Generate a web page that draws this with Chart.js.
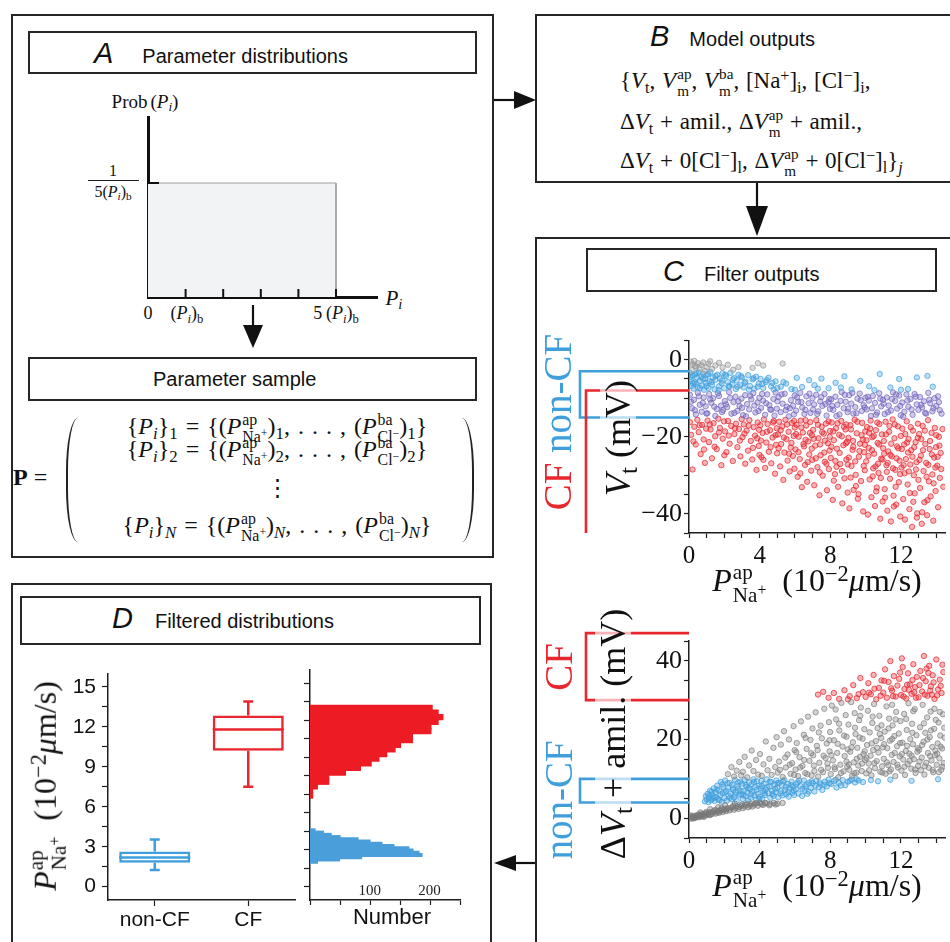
<!DOCTYPE html>
<html>
<head>
<meta charset="utf-8">
<script src="https://cdn.jsdelivr.net/npm/chart.js@4.4.1/dist/chart.umd.min.js"></script>
<style>
html,body{margin:0;padding:0;background:#fff}
body{width:950px;height:942px;position:relative;overflow:hidden;font-family:"Liberation Sans",Arial,sans-serif;color:#111}
.box{position:absolute;border:2px solid #262626;box-sizing:border-box}
.ttl{position:absolute;white-space:nowrap;font-size:20px;line-height:1;transform:translateY(-50%)}
.ttl i{font-size:29px}
.m{position:absolute;white-space:nowrap;font-family:"Liberation Serif","DejaVu Serif",serif;line-height:1;color:#111}
.c{transform:translate(-50%,-50%)}
.r{transform:translate(-50%,-50%) rotate(-90deg)}
.m sub{font-size:.7em;vertical-align:-.28em;line-height:0}
.m sup{font-size:.7em;vertical-align:.45em;line-height:0}
.ss{display:inline-block;font-size:.66em;line-height:1.1;vertical-align:-.5em;text-align:left;margin-left:1px}
.ss>span{display:block}
.ss sup{font-size:.75em;vertical-align:.4em}
canvas{position:absolute}
svg{position:absolute;left:0;top:0}
.paren{position:absolute;width:12px;height:124px;box-sizing:border-box}
</style>
</head>
<body>

<!-- panel frames -->
<div class="box" style="left:11px;top:14px;width:483px;height:544px"></div>
<div class="box" style="left:28px;top:31px;width:449px;height:43px"></div>
<div class="box" style="left:28px;top:357px;width:449px;height:44px"></div>
<div class="box" style="left:535px;top:14px;width:430px;height:169px"></div>
<div class="box" style="left:535px;top:237px;width:430px;height:730px"></div>
<div class="box" style="left:586px;top:248px;width:351px;height:44px"></div>
<div class="box" style="left:11px;top:583px;width:481px;height:400px"></div>
<div class="box" style="left:20px;top:596px;width:461px;height:49px"></div>

<!-- titles -->
<div class="ttl" style="left:94px;top:53px"><i>A</i><span style="margin-left:29px">Parameter distributions</span></div>
<div class="ttl" style="left:153px;top:379px">Parameter sample</div>
<div class="ttl" style="left:650px;top:36px"><i>B</i><span style="margin-left:20px">Model outputs</span></div>
<div class="ttl" style="left:663px;top:271px"><i>C</i><span style="margin-left:20px">Filter outputs</span></div>
<div class="ttl" style="left:112px;top:618px"><i>D</i><span style="margin-left:22px">Filtered distributions</span></div>

<!-- panel A labels -->
<div class="m c" style="left:145px;top:101px;font-size:19px">Prob<span style="margin-left:3px">(</span><i>P<sub>i</sub></i>)</div>
<div class="m c" style="left:113px;top:171px;font-size:16px">1</div>
<div style="position:absolute;left:88px;top:180px;width:51px;border-top:1px solid #222"></div>
<div class="m c" style="left:113px;top:192px;font-size:16px">5(<i>P<sub>i</sub></i>)<sub>b</sub></div>
<div class="m c" style="left:148px;top:313px;font-size:18px">0</div>
<div class="m c" style="left:187px;top:313px;font-size:18px">(<i>P<sub>i</sub></i>)<sub>b</sub></div>
<div class="m c" style="left:336px;top:313px;font-size:18px">5&#8201;(<i>P<sub>i</sub></i>)<sub>b</sub></div>
<div class="m c" style="left:394px;top:298px;font-size:21px"><i>P<sub>i</sub></i></div>

<!-- parameter matrix -->
<div class="m" style="left:13px;top:465px;font-size:24px"><b>P</b> =</div>
<div class="paren" style="left:66px;top:418px;border-left:2px solid #222;border-radius:14px 0 0 14px / 62px 0 0 62px"></div>
<div class="paren" style="left:462px;top:418px;border-right:2px solid #222;border-radius:0 14px 14px 0 / 0 62px 62px 0"></div>
<div class="m c" style="left:277px;top:428px;font-size:24px;word-spacing:2px">{<i>P</i><sub><i>i</i></sub>}<sub>1</sub> = {(<i>P</i><span class="ss"><span>ap</span><span>Na<sup>+</sup></span></span>)<sub>1</sub>, . . . , (<i>P</i><span class="ss"><span>ba</span><span>Cl<sup>&minus;</sup></span></span>)<sub>1</sub>}</div>
<div class="m c" style="left:277px;top:451px;font-size:24px;word-spacing:2px">{<i>P</i><sub><i>i</i></sub>}<sub>2</sub> = {(<i>P</i><span class="ss"><span>ap</span><span>Na<sup>+</sup></span></span>)<sub>2</sub>, . . . , (<i>P</i><span class="ss"><span>ba</span><span>Cl<sup>&minus;</sup></span></span>)<sub>2</sub>}</div>
<div class="m c" style="left:277px;top:487px;font-size:23px">&#8942;</div>
<div class="m c" style="left:277px;top:527px;font-size:24px;word-spacing:2px">{<i>P</i><sub><i>i</i></sub>}<sub><i>N</i></sub> = {(<i>P</i><span class="ss"><span>ap</span><span>Na<sup>+</sup></span></span>)<sub><i>N</i></sub>, . . . , (<i>P</i><span class="ss"><span>ba</span><span>Cl<sup>&minus;</sup></span></span>)<sub><i>N</i></sub>}</div>

<!-- panel B formulas -->
<div class="m" style="left:620px;top:66px;font-size:23px;word-spacing:1px">{<i>V</i><sub>t</sub>, <i>V</i><span class="ss"><span>ap</span><span>m</span></span>, <i>V</i><span class="ss"><span>ba</span><span>m</span></span>, [Na<sup>+</sup>]<sub>i</sub>, [Cl<sup>&minus;</sup>]<sub>i</sub>,</div>
<div class="m" style="left:620px;top:107px;font-size:23px;word-spacing:1px">&Delta;<i>V</i><sub>t</sub> + amil., &Delta;<i>V</i><span class="ss"><span>ap</span><span>m</span></span> + amil.,</div>
<div class="m" style="left:620px;top:146px;font-size:23px;word-spacing:1px">&Delta;<i>V</i><sub>t</sub> + 0[Cl<sup>&minus;</sup>]<sub>l</sub>, &Delta;<i>V</i><span class="ss"><span>ap</span><span>m</span></span> + 0[Cl<sup>&minus;</sup>]<sub>l</sub>}<sub><i>j</i></sub></div>

<canvas id="cDist" width="330" height="200" style="left:80px;top:110px"></canvas>
<canvas id="cTop" width="410" height="250" style="left:540px;top:320px"></canvas>
<canvas id="cBot" width="410" height="255" style="left:540px;top:620px"></canvas>
<canvas id="cBox" width="285" height="285" style="left:20px;top:655px"></canvas>
<canvas id="cHist" width="180" height="285" style="left:300px;top:655px"></canvas>

<!-- panel C labels -->
<div class="m r" style="left:557px;top:422px;font-size:39px"><span style="color:#e8262d">CF</span> <span style="color:#3f9fdc">non-CF</span></div>
<div class="m r" style="left:618px;top:438px;font-size:36px;background:rgba(255,255,255,0.65);padding:0 3px"><i>V</i><sub>t</sub> (mV)</div>
<div class="m c" style="left:817px;top:584px;font-size:32px"><i>P</i><span class="ss"><span>ap</span><span>Na<sup>+</sup></span></span>&nbsp; (10<sup>&minus;2</sup><i>&mu;</i>m/s)</div>
<div class="m r" style="left:558px;top:667px;font-size:39px;color:#e8262d">CF</div>
<div class="m r" style="left:558px;top:800px;font-size:39px;color:#3f9fdc">non-CF</div>
<div class="m r" style="left:613px;top:734px;font-size:36px;background:rgba(255,255,255,0.65);padding:0 3px">&Delta;<i>V</i><sub>t</sub> + amil. (mV)</div>
<div class="m c" style="left:817px;top:889px;font-size:32px"><i>P</i><span class="ss"><span>ap</span><span>Na<sup>+</sup></span></span>&nbsp; (10<sup>&minus;2</sup><i>&mu;</i>m/s)</div>

<!-- panel D labels -->
<div class="m r" style="left:48px;top:786px;font-size:32px"><i>P</i><span class="ss"><span>ap</span><span>Na<sup>+</sup></span></span>&nbsp; (10<sup>&minus;2</sup><i>&mu;</i>m/s)</div>
<div class="ttl" style="left:392px;top:917px;font-size:22px;transform:translate(-50%,-50%)">Number</div>

<svg width="950" height="942">
  <g stroke="#111" stroke-width="2.2" fill="#111">
    <line x1="253" y1="305" x2="253" y2="328"/>
    <polygon points="243,325 263,325 253,348" stroke="none"/>
    <line x1="494" y1="100" x2="518" y2="100"/>
    <polygon points="514,91 514,109 536,100" stroke="none"/>
    <line x1="757" y1="183" x2="757" y2="210"/>
    <polygon points="746,206 768,206 757,236" stroke="none"/>
    <line x1="535" y1="863" x2="512" y2="863"/>
    <polygon points="516,855 516,871 494,863" stroke="none"/>
  </g>
</svg>

<script>
// ---------- panel A: uniform prior ----------
const distSpan = [0, 5];          // in units of (P_i)_b
const distHeight = 0.2;           // 1 / (5 (P_i)_b)
const distTicks = [1, 2, 3, 4, 5];

// ---------- panel C: V_t filter (top) ----------
const topThresholdNonCF = [-15, -3];
const topThresholdCF = -8;

const topGrey = [[0.1,-0.5],[0.2,-1.2],[0.3,-0.3],[0.4,-1.8],[0.5,-0.9],[0.6,-2.2],[0.7,-1.4],[0.8,-0.7],[1.0,-1.9],[1.1,-1.0],[1.3,-2.4],[1.5,-1.5],[1.7,-0.8],[1.9,-2.0],[2.2,-1.3],[2.5,-2.6],[2.8,-1.9],[3.6,-2.1],[3.9,-0.9],[4.2,-1.5],[5.3,-1.0],[0.15,-2.7],[0.9,-2.9],[0.35,-1.6],[1.2,-0.4]];

const topBlue = [[0.05,-3.4],[0.1,-5.2],[0.15,-6.8],[0.2,-4.1],[0.25,-7.5],[0.3,-5.9],[0.35,-3.8],[0.4,-6.3],[0.45,-4.7],[0.5,-7.1],[0.55,-3.3],[0.6,-5.5],[0.7,-4.4],[0.75,-6.7],[0.8,-3.6],[0.85,-7.8],[0.9,-5.0],[0.95,-6.0],
  [1.0,-4.0],[1.1,-7.3],[1.15,-5.6],[1.2,-3.2],[1.3,-6.5],[1.35,-4.6],[1.45,-7.7],[1.5,-5.2],[1.6,-3.9],[1.7,-6.9],[1.75,-4.9],[1.85,-6.1],[1.9,-3.5],[2.0,-7.4],
  [2.1,-4.3],[2.2,-5.8],[2.3,-7.0],[2.35,-3.4],[2.45,-6.4],[2.55,-4.8],[2.65,-7.6],[2.7,-5.4],[2.8,-3.9],[2.9,-6.6],
  [3.0,-4.6],[3.1,-7.2],[3.2,-5.7],[3.35,-4.0],[3.45,-6.8],[3.6,-5.1],[3.7,-7.5],[3.8,-4.4],[3.95,-6.2],
  [4.05,-5.0],[4.2,-7.3],[4.35,-5.8],[4.5,-4.7],[4.65,-6.9],[4.8,-7.7],[4.9,-5.6],
  [5.2,-7.0],[5.5,-6.2],[5.8,-7.6],[6.1,-4.7],[6.4,-7.1],[6.8,-5.3],[7.1,-6.6],[7.5,-4.9],[7.9,-7.4],[8.3,-6.0],[8.8,-4.3],[9.2,-7.7],[9.7,-5.5],[10.2,-6.9],[10.8,-3.7],[11.4,-7.2],[11.9,-5.0],[12.4,-7.6],[12.9,-4.6],[13.5,-4.2],[13.8,-7.0],
  [0.08,-4.5],[0.22,-6.1],[0.42,-3.5],[0.62,-7.4],[0.78,-4.9],[0.98,-6.9],[1.08,-3.7],[1.28,-5.8],[1.5,-4.2],[1.68,-7.9],[1.88,-5.4],[2.05,-3.9],[2.25,-6.8],[2.48,-5.1],[2.75,-7.0],[2.95,-4.3],[3.15,-6.0],[3.4,-7.8],[3.65,-4.8],[3.88,-7.0],[4.15,-6.3],[4.4,-5.3],[4.72,-6.0],[5.0,-7.3],[5.35,-5.8],[6.0,-7.8],[7.3,-7.5],[8.6,-7.2],[10.5,-7.9],[12.0,-7.8]];

const topPurple = [[0.05,-9.1],[0.17,-12.6],[0.28,-10.4],[0.39,-14.2],[0.5,-8.6],[0.61,-11.7],[0.72,-13.5],[0.83,-9.8],[0.94,-12.1],
  [1.04,-13.9],[1.14,-8.9],[1.26,-11.2],[1.37,-10.0],[1.49,-14.6],[1.58,-12.8],[1.7,-9.4],[1.81,-11.9],[1.93,-13.1],
  [2.03,-10.7],[2.16,-12.3],[2.27,-8.4],[2.4,-14.0],[2.52,-11.0],[2.63,-9.6],[2.74,-13.3],[2.86,-12.0],[2.97,-10.1],
  [3.06,-14.4],[3.18,-9.2],[3.29,-11.5],[3.41,-12.9],[3.53,-10.3],[3.64,-8.7],[3.76,-13.7],[3.88,-11.1],[3.98,-9.9],
  [4.08,-12.5],[4.2,-10.6],[4.31,-14.3],[4.43,-9.0],[4.55,-11.8],[4.66,-13.0],[4.78,-10.2],[4.9,-8.5],[4.97,-12.7],
  [5.07,-9.7],[5.19,-13.6],[5.3,-11.4],[5.42,-8.8],[5.54,-12.2],[5.65,-14.7],[5.77,-10.5],[5.89,-11.9],[5.98,-9.3],
  [6.06,-13.2],[6.18,-10.9],[6.3,-8.6],[6.41,-12.4],[6.53,-14.1],[6.65,-9.5],[6.77,-11.3],[6.88,-13.8],[6.99,-10.0],
  [7.08,-11.6],[7.2,-9.1],[7.32,-13.4],[7.43,-10.8],[7.55,-12.0],[7.67,-8.9],[7.79,-14.5],[7.9,-11.0],[7.98,-12.8],
  [8.05,-10.3],[8.17,-13.0],[8.29,-9.6],[8.4,-11.7],[8.52,-14.2],[8.64,-8.4],[8.76,-12.6],[8.87,-10.9],[8.98,-13.6],
  [9.07,-9.2],[9.19,-11.4],[9.31,-14.0],[9.42,-12.3],[9.54,-10.1],[9.66,-8.8],[9.78,-13.3],[9.89,-11.8],[9.99,-9.9],
  [10.06,-12.9],[10.18,-10.6],[10.3,-14.6],[10.41,-9.4],[10.53,-11.2],[10.65,-13.7],[10.77,-8.7],[10.88,-12.1],[10.98,-10.4],
  [11.08,-14.1],[11.2,-9.8],[11.31,-11.9],[11.43,-13.2],[11.55,-8.5],[11.67,-10.7],[11.78,-12.7],[11.9,-9.3],[11.99,-14.4],
  [12.07,-11.1],[12.19,-13.5],[12.31,-9.0],[12.42,-12.2],[12.54,-10.2],[12.66,-14.3],[12.77,-8.9],[12.89,-11.6],[12.99,-13.0],
  [13.08,-9.7],[13.2,-12.4],[13.31,-10.8],[13.43,-14.0],[13.55,-8.6],[13.66,-11.3],[13.78,-13.4],[13.9,-10.0],[14.0,-12.0],[14.1,-9.5],[14.2,-13.1],
  [0.11,-10.9],[0.33,-13.1],[0.56,-9.5],[0.78,-11.2],[0.99,-14.0],[1.2,-10.3],[1.43,-12.2],[1.64,-8.7],[1.87,-13.6],[2.09,-11.6],[2.33,-9.9],[2.57,-13.8],[2.8,-10.8],[3.0,-12.5],[3.23,-14.7],[3.47,-9.4],[3.7,-11.9],[3.93,-13.3],[4.14,-8.9],[4.37,-11.3],[4.6,-12.9],[4.84,-14.5],[5.01,-10.8],[5.24,-9.0],[5.48,-13.1],[5.71,-12.6],[5.94,-14.2],[6.12,-9.8],[6.36,-11.0],[6.59,-13.0],[6.82,-8.8],[7.02,-12.9],[7.26,-14.1],[7.49,-9.7],[7.73,-11.5],[7.95,-10.2],[8.11,-12.0],[8.35,-14.6],[8.58,-10.7],[8.82,-9.1],[9.02,-12.7],[9.25,-8.6],[9.48,-13.9],[9.72,-10.5],[9.95,-12.4],[10.12,-9.6],[10.36,-12.6],[10.59,-14.3],[10.83,-10.1],[11.02,-11.4],[11.26,-13.6],[11.49,-10.2],[11.73,-9.0],[11.96,-12.0],[12.13,-14.8],[12.37,-10.6],[12.6,-12.9],[12.84,-9.6],[13.14,-11.7],[13.37,-13.8],[13.6,-10.4],[13.84,-12.6],[14.15,-11.0],[14.3,-14.0]];

const topRed = [[0.05,-16.2],[0.12,-19.5],[0.2,-28.5],[0.3,-17.4],[0.38,-22.0],[0.47,-15.6],[0.55,-18.8],[0.66,-24.5],[0.74,-16.9],[0.83,-20.7],[0.9,-26.8],[0.97,-17.9],
  [1.05,-15.8],[1.13,-21.4],[1.22,-18.1],[1.3,-25.6],[1.39,-16.5],[1.48,-19.9],[1.57,-23.2],[1.66,-15.3],[1.75,-17.7],[1.83,-27.4],[1.91,-20.5],[1.98,-16.0],
  [2.04,-18.6],[2.12,-24.0],[2.21,-15.9],[2.3,-21.8],[2.39,-17.2],[2.48,-26.3],[2.57,-19.3],[2.66,-16.6],[2.74,-22.7],[2.83,-18.0],[2.91,-25.1],[2.98,-15.4],
  [3.03,-20.1],[3.1,-16.8],[3.18,-27.0],[3.26,-18.4],[3.34,-23.6],[3.42,-15.7],[3.5,-21.1],[3.58,-25.9],[3.66,-17.5],[3.74,-19.7],[3.82,-28.6],[3.89,-16.3],[3.95,-22.4],[3.99,-24.7],
  [4.04,-17.0],[4.1,-25.3],[4.17,-19.0],[4.24,-15.5],[4.31,-28.1],[4.38,-21.5],[4.45,-16.7],[4.52,-23.9],[4.59,-18.3],[4.66,-26.9],[4.73,-20.2],[4.8,-15.9],[4.87,-29.6],[4.93,-22.1],[4.97,-17.8],[4.99,-24.3],
  [5.04,-19.4],[5.1,-16.1],[5.16,-27.7],[5.22,-21.9],[5.28,-17.3],[5.34,-31.2],[5.4,-24.1],[5.46,-15.6],[5.52,-20.6],[5.58,-26.2],[5.64,-18.7],[5.7,-29.0],[5.76,-22.8],[5.82,-16.4],[5.88,-25.0],[5.93,-19.8],[5.97,-28.3],[5.99,-17.6],
  [6.03,-23.3],[6.09,-16.9],[6.15,-30.4],[6.21,-20.0],[6.27,-25.8],[6.33,-15.8],[6.39,-33.1],[6.45,-18.9],[6.51,-22.5],[6.57,-27.3],[6.63,-17.1],[6.69,-31.7],[6.75,-21.2],[6.81,-24.6],[6.87,-16.2],[6.92,-28.8],[6.96,-19.6],[6.98,-26.0],[6.6,-20.8],[6.3,-29.5],
  [7.03,-18.2],[7.09,-32.6],[7.15,-22.3],[7.21,-15.7],[7.27,-27.9],[7.33,-20.4],[7.39,-35.2],[7.45,-24.8],[7.51,-17.4],[7.57,-30.1],[7.63,-19.2],[7.69,-26.5],[7.75,-16.6],[7.81,-33.9],[7.87,-21.7],[7.92,-28.4],[7.96,-23.6],[7.98,-18.5],[7.4,-29.2],[7.7,-21.0],
  [8.03,-25.5],[8.08,-16.3],[8.14,-36.4],[8.2,-20.9],[8.26,-29.7],[8.32,-17.8],[8.38,-23.1],[8.44,-33.0],[8.5,-19.5],[8.56,-27.1],[8.62,-15.9],[8.68,-37.3],[8.74,-22.2],[8.8,-30.8],[8.86,-18.1],[8.91,-25.9],[8.95,-21.3],[8.98,-34.5],[8.35,-27.8],[8.65,-19.9],[8.2,-31.4],[8.9,-16.8],
  [9.03,-20.3],[9.08,-38.6],[9.14,-17.0],[9.2,-27.6],[9.26,-23.4],[9.32,-33.8],[9.38,-15.6],[9.44,-29.9],[9.5,-19.1],[9.56,-36.1],[9.62,-25.2],[9.68,-21.8],[9.74,-31.5],[9.8,-16.4],[9.86,-39.4],[9.91,-24.0],[9.95,-28.7],[9.98,-18.6],[9.3,-22.6],[9.6,-34.9],[9.15,-30.6],[9.85,-20.7],
  [10.03,-26.4],[10.08,-17.5],[10.13,-40.2],[10.18,-22.9],[10.23,-31.1],[10.28,-15.8],[10.33,-35.7],[10.38,-20.1],[10.43,-28.2],[10.48,-24.4],[10.53,-38.0],[10.58,-18.3],[10.63,-33.2],[10.68,-21.6],[10.73,-29.4],[10.78,-16.7],[10.83,-41.3],[10.88,-25.7],[10.92,-19.4],[10.96,-36.8],[10.99,-23.0],[10.4,-30.3],[10.7,-27.0],[10.2,-19.0],
  [11.03,-21.1],[11.08,-33.6],[11.13,-16.1],[11.18,-27.4],[11.23,-39.2],[11.28,-23.8],[11.33,-18.7],[11.38,-30.9],[11.43,-42.0],[11.48,-25.1],[11.53,-15.5],[11.58,-35.3],[11.63,-20.4],[11.68,-28.6],[11.73,-37.6],[11.78,-22.5],[11.83,-17.3],[11.88,-31.8],[11.92,-26.2],[11.96,-40.7],[11.99,-19.8],[11.4,-24.7],[11.7,-33.0],[11.2,-29.1],
  [12.03,-28.0],[12.08,-17.9],[12.13,-36.2],[12.18,-22.0],[12.23,-41.5],[12.28,-25.8],[12.33,-16.0],[12.38,-32.4],[12.43,-20.6],[12.48,-38.8],[12.53,-27.2],[12.58,-23.5],[12.63,-43.4],[12.68,-18.4],[12.73,-30.0],[12.78,-34.7],[12.83,-21.4],[12.88,-26.6],[12.92,-39.9],[12.96,-16.6],[12.99,-31.2],[12.4,-24.1],[12.7,-36.9],[12.2,-29.5],
  [13.03,-19.3],[13.08,-33.3],[13.13,-24.9],[13.18,-42.6],[13.23,-17.2],[13.28,-28.9],[13.33,-37.0],[13.38,-21.9],[13.43,-26.8],[13.48,-40.4],[13.53,-15.7],[13.58,-31.6],[13.63,-23.2],[13.68,-35.5],[13.73,-19.0],[13.78,-29.8],[13.83,-41.8],[13.88,-25.4],[13.92,-17.7],[13.96,-34.1],[13.99,-22.7],[14.05,-27.5],[14.1,-38.3],[14.15,-20.0],[14.2,-30.7],[14.25,-24.2],
  [0.25,-21.2],[0.6,-17.0],[0.85,-23.3],[1.18,-16.8],[1.45,-22.6],[1.7,-18.9],[2.0,-24.8],[2.25,-19.7],[2.6,-17.8],[2.88,-21.0],
  [3.14,-19.2],[3.38,-17.1],[3.62,-22.9],[3.86,-20.4],[3.97,-18.2],
  [4.07,-21.0],[4.21,-26.0],[4.41,-18.7],[4.62,-22.7],[4.76,-16.3],[4.9,-19.6],
  [5.07,-23.0],[5.19,-18.3],[5.37,-20.2],[5.55,-16.8],[5.67,-24.4],[5.8,-21.6],[5.95,-15.9],
  [6.06,-19.3],[6.2,-24.0],[6.36,-17.6],[6.48,-21.9],[6.6,-15.7],[6.72,-26.6],[6.85,-19.0],[6.95,-23.1],
  [7.06,-20.5],[7.18,-25.6],[7.3,-16.9],[7.42,-22.0],[7.54,-18.8],[7.66,-24.1],[7.78,-27.0],[7.9,-16.0],[7.97,-20.0],
  [8.06,-22.6],[8.17,-18.6],[8.29,-26.3],[8.41,-16.5],[8.53,-24.2],[8.66,-28.9],[8.77,-17.4],[8.89,-21.7],[8.99,-27.2],
  [9.05,-25.4],[9.17,-18.1],[9.29,-21.1],[9.41,-26.4],[9.53,-16.1],[9.65,-23.7],[9.77,-19.6],[9.89,-27.6],[9.96,-22.1],[9.45,-32.8],
  [10.05,-20.9],[10.16,-25.0],[10.26,-17.9],[10.36,-23.5],[10.46,-19.8],[10.56,-27.7],[10.66,-16.3],[10.76,-22.0],[10.86,-30.7],[10.95,-25.9],[10.6,-34.2],
  [11.05,-24.4],[11.15,-19.4],[11.25,-26.8],[11.35,-17.2],[11.45,-21.8],[11.55,-28.2],[11.65,-16.8],[11.75,-25.6],[11.85,-23.0],[11.95,-29.7],[11.6,-38.1],[11.1,-35.8],
  [12.05,-23.2],[12.15,-27.4],[12.25,-19.3],[12.35,-21.5],[12.45,-29.0],[12.55,-17.5],[12.65,-25.2],[12.75,-22.7],[12.85,-28.5],[12.95,-20.3],[12.5,-34.6],[12.9,-41.0],
  [13.05,-26.0],[13.15,-20.6],[13.25,-23.5],[13.35,-18.4],[13.45,-30.4],[13.55,-27.3],[13.65,-21.1],[13.75,-24.6],[13.85,-32.1],[13.95,-28.0],[13.5,-36.5],[13.2,-39.6],
  [14.0,-19.6],[14.08,-25.2],[14.18,-22.3],[14.28,-28.4],[14.35,-18.0],[14.4,-33.0]];

// ---------- panel C: amiloride response filter (bottom) ----------
const botThresholdNonCF = [4, 10];
const botThresholdCF = [30, 47];

const botGreyLow = [[0.05,0.1],[0.1,0.4],[0.15,-0.1],[0.2,0.3],[0.25,0.6],[0.3,0.1],[0.35,0.5],[0.4,0.2],[0.45,0.8],[0.5,0.4],[0.55,0.7],[0.6,0.3],[0.7,0.9],[0.75,0.5],[0.8,1.1],[0.9,0.7],[0.95,1.3],[1.0,0.9],[1.1,1.4],[1.15,0.8],[1.25,1.6],[1.3,1.1],[1.4,1.8],[1.5,1.2],[1.6,1.9],[1.7,1.4],[1.8,2.2],[1.9,1.6],[2.0,2.4],[2.1,1.8],[2.2,2.6],[2.3,2.0],[2.45,2.8],[2.55,2.2],[2.7,3.0],[2.8,2.4],[2.95,3.2],[3.05,2.6],[3.2,3.4],[3.35,2.8],[3.5,3.6],[3.6,3.0],[3.75,3.8],[3.9,3.2],[4.05,3.9],[4.2,3.4],[4.4,3.8],[4.6,3.6],[4.8,3.9],[5.0,3.7],[5.3,3.9],[0.65,1.5],[1.2,2.3],[1.65,2.8],[2.05,3.3],[2.6,3.7],
  [0.12,0.7],[0.28,0.0],[0.42,0.5],[0.58,1.0],[0.68,0.6],[0.85,0.4],[0.98,1.6],[1.08,1.1],[1.22,0.9],[1.35,1.5],[1.48,2.1],[1.58,1.5],[1.75,1.8],[1.85,2.6],[1.98,2.0],[2.15,2.3],[2.35,2.5],[2.5,3.1],[2.65,2.6],[2.85,2.9],[3.0,3.5],[3.15,3.0],[3.3,3.7],[3.45,3.2],[3.68,3.5],[3.85,3.8],[4.1,3.6],[4.3,3.9],[4.55,3.3],[4.9,3.5]];

const botBlue = [[0.9,4.3],[0.95,5.6],[1.0,4.8],[1.05,6.2],[1.1,4.1],[1.15,5.2],[1.2,7.0],[1.25,4.6],[1.3,6.0],[1.35,5.0],[1.4,7.6],[1.45,4.4],[1.5,6.6],[1.55,5.4],[1.6,8.3],[1.65,4.9],[1.7,7.1],[1.75,5.8],[1.8,9.2],[1.85,4.2],[1.9,6.4],[1.95,8.0],[2.0,5.1],
  [2.05,9.6],[2.1,6.9],[2.15,4.5],[2.2,7.8],[2.25,5.7],[2.3,9.0],[2.35,6.3],[2.4,4.8],[2.45,8.5],[2.5,7.2],[2.55,5.3],[2.6,9.8],[2.65,6.7],[2.7,4.4],[2.75,8.2],[2.8,7.5],[2.85,5.9],[2.9,9.3],[2.95,6.1],
  [3.0,8.8],[3.05,4.9],[3.1,7.0],[3.15,9.7],[3.2,5.6],[3.25,8.0],[3.3,6.5],[3.35,4.6],[3.4,9.1],[3.45,7.4],[3.5,5.2],[3.55,8.6],[3.6,6.8],[3.65,9.9],[3.7,5.8],[3.75,7.9],[3.8,4.7],[3.85,9.4],[3.9,6.2],[3.95,8.3],
  [4.0,5.5],[4.05,7.6],[4.1,9.5],[4.15,4.9],[4.2,6.9],[4.25,8.8],[4.3,5.9],[4.35,7.3],[4.4,9.9],[4.5,6.4],[4.55,8.1],[4.6,5.2],[4.65,9.2],[4.7,7.0],[4.8,5.7],[4.85,8.5],[4.9,6.6],[4.95,9.6],
  [5.0,7.8],[5.05,5.3],[5.1,9.0],[5.2,6.9],[5.25,8.4],[5.3,5.8],[5.4,9.7],[5.45,7.2],[5.5,6.1],[5.6,8.7],[5.65,5.5],[5.7,7.6],[5.8,9.3],[5.85,6.5],[5.9,8.0],[5.95,5.9],
  [6.05,7.4],[6.15,9.1],[6.2,6.3],[6.3,8.2],[6.4,5.7],[6.5,9.6],[6.55,7.0],[6.65,8.6],[6.7,6.2],[6.8,9.0],[6.9,7.7],
  [7.0,8.9],[7.1,6.8],[7.2,9.5],[7.35,7.9],[7.45,8.6],[7.55,7.2],[7.7,9.3],[7.8,8.1],[7.9,9.8],
  [8.05,8.7],[8.2,9.4],[8.35,7.8],[8.5,9.0],[8.7,9.7],[8.85,8.4],[9.0,9.3],[9.2,9.8],[9.4,9.1],[9.6,9.6],[9.85,9.2],
  [10.3,9.7],[10.7,9.4],[11.4,9.8],[12.6,9.5],[14.1,9.9],
  [1.12,5.8],[1.28,6.7],[1.42,5.3],[1.58,7.3],[1.72,4.6],[1.88,8.6],[2.02,6.6],[2.18,8.9],[2.32,5.2],[2.48,7.6],[2.62,6.0],[2.78,9.1],[2.92,7.0],[3.08,5.9],[3.22,8.5],[3.38,7.7],[3.52,6.1],[3.68,9.2],[3.82,7.2],[3.98,5.0],[4.12,8.2],[4.28,6.4],[4.42,7.9],[4.58,9.3],[4.72,6.1],[4.88,7.5],[5.02,8.9],[5.18,6.3],[5.32,9.4],[5.48,8.0],[5.62,6.7],[5.78,8.4],[5.92,7.1],[6.08,8.7],[6.25,9.6],[6.42,7.5],[6.6,8.1],[6.78,6.8],[6.95,9.4],[7.15,8.3],[7.4,9.1],[7.65,8.5],[7.95,8.9],[8.3,9.8],[8.6,8.3],[9.1,9.5],[9.5,9.9]];

const botGrey = [[2.2,11.2],[2.4,13.0],[2.55,10.6],[2.7,12.1],[2.85,14.3],[2.95,10.9],
  [3.05,11.8],[3.15,15.6],[3.3,10.4],[3.4,13.4],[3.55,17.2],[3.65,12.0],[3.8,14.8],[3.92,11.1],
  [4.02,16.3],[4.12,10.8],[4.22,13.7],[4.35,19.5],[4.45,12.2],[4.55,15.1],[4.68,11.0],[4.78,17.9],[4.88,13.0],[4.96,20.6],
  [5.02,11.6],[5.1,14.4],[5.2,18.7],[5.3,10.5],[5.38,22.1],[5.48,12.9],[5.58,16.2],[5.66,20.0],[5.75,11.3],[5.84,14.0],[5.92,23.4],[5.98,17.3],
  [6.03,12.4],[6.1,19.1],[6.18,10.7],[6.26,15.5],[6.34,24.6],[6.42,13.3],[6.5,21.2],[6.58,11.5],[6.66,17.6],[6.74,25.8],[6.82,14.6],[6.88,19.9],[6.94,10.9],[6.99,22.8],
  [7.03,16.0],[7.1,12.0],[7.17,26.9],[7.24,18.4],[7.31,10.6],[7.38,14.1],[7.45,23.5],[7.52,20.3],[7.59,11.7],[7.66,27.8],[7.73,15.3],[7.8,19.0],[7.87,12.8],[7.92,24.4],[7.96,17.0],[7.99,21.9],
  [8.03,11.2],[8.09,28.6],[8.15,14.7],[8.21,19.8],[8.27,12.5],[8.33,25.1],[8.39,16.6],[8.45,10.4],[8.51,22.3],[8.57,13.6],[8.63,29.3],[8.69,18.2],[8.75,11.9],[8.81,15.8],[8.87,26.2],[8.92,20.7],[8.96,13.1],[8.99,17.5],
  [9.03,23.8],[9.08,12.3],[9.13,16.9],[9.18,29.5],[9.23,10.8],[9.28,19.3],[9.33,14.2],[9.38,26.7],[9.43,21.4],[9.48,11.6],[9.53,17.9],[9.58,13.4],[9.63,24.9],[9.68,15.6],[9.73,28.1],[9.78,12.0],[9.83,20.2],[9.88,16.3],[9.93,22.6],[9.97,14.8],
  [10.03,11.4],[10.08,18.6],[10.13,27.3],[10.18,13.9],[10.23,21.8],[10.28,15.9],[10.33,10.9],[10.38,24.2],[10.43,17.3],[10.48,29.0],[10.53,12.7],[10.58,19.6],[10.63,14.5],[10.68,22.9],[10.73,16.7],[10.78,26.0],[10.83,11.8],[10.88,20.4],[10.93,13.2],[10.97,18.0],
  [11.03,15.1],[11.08,22.0],[11.13,11.3],[11.18,28.4],[11.23,17.8],[11.28,13.5],[11.33,25.3],[11.38,19.7],[11.43,12.4],[11.48,16.1],[11.53,23.6],[11.58,14.3],[11.63,20.9],[11.68,10.7],[11.73,27.0],[11.78,18.3],[11.83,12.9],[11.88,21.5],[11.93,15.7],[11.97,24.7],
  [12.03,12.1],[12.08,19.2],[12.13,14.9],[12.18,26.5],[12.23,11.0],[12.28,17.1],[12.33,22.4],[12.38,13.8],[12.43,29.2],[12.48,16.4],[12.53,20.1],[12.58,12.6],[12.63,24.0],[12.68,18.8],[12.73,15.0],[12.78,27.7],[12.83,11.5],[12.88,21.1],[12.93,16.9],[12.97,13.3],
  [13.03,17.4],[13.08,23.1],[13.13,12.2],[13.18,15.4],[13.23,28.8],[13.28,19.4],[13.33,11.1],[13.38,21.7],[13.43,14.1],[13.48,25.6],[13.53,16.6],[13.58,12.8],[13.63,20.6],[13.68,27.1],[13.73,14.7],[13.78,18.1],[13.83,11.7],[13.88,22.7],[13.93,16.0],[13.97,25.0],
  [14.03,13.6],[14.08,19.0],[14.13,24.3],[14.18,15.2],[14.23,21.0],[14.28,12.3],[14.33,17.7],[14.38,26.4],[14.43,14.0],[14.47,20.5],
  [5.15,12.3],[5.45,15.4],[5.7,13.6],[5.95,11.0],
  [6.07,16.8],[6.3,12.9],[6.52,14.8],[6.7,11.2],[6.92,16.5],[6.6,20.4],
  [7.07,13.4],[7.28,17.3],[7.48,12.3],[7.62,15.9],[7.84,13.9],[7.95,19.8],[7.35,21.8],
  [8.06,16.0],[8.24,13.0],[8.42,18.9],[8.6,11.5],[8.78,21.0],[8.92,14.4],[8.5,24.0],[8.3,27.6],
  [9.05,13.7],[9.2,18.0],[9.36,11.4],[9.5,15.1],[9.66,20.5],[9.8,13.9],[9.95,17.0],[9.4,23.0],[9.7,26.0],
  [10.05,15.3],[10.2,12.2],[10.35,19.0],[10.5,14.0],[10.65,17.9],[10.8,21.4],[10.95,11.6],[10.4,25.8],[10.9,23.6],
  [11.05,18.8],[11.2,14.2],[11.35,11.9],[11.5,20.1],[11.65,16.6],[11.8,13.6],[11.95,19.1],[11.3,22.8],[11.7,25.1],[11.5,28.8],
  [12.05,16.3],[12.2,13.1],[12.35,18.4],[12.5,14.6],[12.65,21.7],[12.8,12.4],[12.95,17.8],[12.3,25.2],[12.7,27.2],[12.6,15.9],
  [13.05,14.4],[13.2,18.6],[13.35,13.2],[13.5,20.0],[13.65,15.8],[13.8,12.3],[13.95,17.2],[13.3,24.1],[13.7,22.3],[13.9,27.8],
  [14.05,16.4],[14.15,11.7],[14.25,18.2],[14.35,13.1],[14.45,23.0],[14.2,27.0]];

const botRed = [[7.3,31.4],[7.6,32.1],[7.9,30.6],[8.2,31.8],[8.5,30.3],[8.8,32.5],[9.1,31.0],[9.3,33.8],[9.5,30.5],[9.7,35.6],[9.85,32.0],[10.0,30.8],[10.15,34.3],[10.3,31.5],[10.45,36.4],[10.6,30.2],[10.75,33.1],[10.9,35.0],[11.0,31.9],[11.1,37.8],[11.2,30.6],[11.3,34.6],[11.4,39.9],[11.5,32.4],[11.6,36.1],[11.7,30.9],[11.8,33.7],[11.9,35.4],[12.0,31.3],[12.1,38.4],[12.2,32.8],[12.3,30.4],[12.4,36.8],[12.5,34.0],[12.6,31.6],[12.7,39.1],[12.8,33.3],[12.9,35.9],[13.0,30.7],[13.1,37.4],[13.2,32.2],[13.3,41.2],[13.4,34.8],[13.5,31.1],[13.6,38.7],[13.7,33.5],[13.8,36.3],[13.9,30.3],[14.0,40.3],[14.1,32.7],[14.2,35.2],[14.3,31.8],[14.4,37.1],[11.45,33.0],[12.35,33.9],[12.75,32.0],[13.25,35.6],[13.75,31.4],[10.5,32.9],[9.0,30.2],
  [11.05,34.9],[11.55,31.0],[11.95,37.0],[12.15,30.9],[12.45,32.6],[12.65,35.1],[12.85,30.6],[13.05,33.8],[13.35,31.4],[13.55,36.9],[13.65,32.4],[13.85,34.5],[14.05,31.2],[14.25,33.6],[14.35,39.0],[10.2,31.9],[10.85,31.1],[9.6,31.5],[12.05,40.6],[13.45,38.0]];

// ---------- panel D: filtered P_Na distributions ----------
const groups = ['non-CF', 'CF'];
const boxMin = [1.25, 7.5];
const boxQ1 = [1.8, 10.2];
const boxMed = [2.2, 11.8];
const boxQ3 = [2.65, 12.85];
const boxMax = [3.55, 13.9];

const redBins = [13.7625, 13.3875, 13.0125, 12.6375, 12.2625, 11.8875, 11.5125, 11.1375, 10.7625, 10.3875, 10.0125, 9.6375, 9.2625, 8.8875, 8.5125, 8.1375, 7.7625, 7.3875, 7.0125, 6.6375];
const redCounts = [204, 214, 222, 214, 202, 202, 171, 171, 151, 142, 128, 115, 102, 84, 59, 31, 31, 12, 4, 4];
const blueBins = [3.7375, 3.55, 3.3625, 3.175, 2.9875, 2.8, 2.6125, 2.425, 2.2375, 2.05, 1.8625, 1.675, 1.4875, 1.3, 1.1125];
const blueCounts = [8, 22, 35, 50, 80, 100, 120, 140, 165, 172, 182, 187, 86, 49, 12];
const histLabels = [100, 200];

const ink = '#1e1e1e';
const red = '#e8262d';
const blue = '#3f9fdc';
const serif = '"Liberation Serif","DejaVu Serif",serif';
const sans = '"Liberation Sans",Arial,sans-serif';

Chart.defaults.color = '#111';
Chart.defaults.font.family = serif;

const noUi = { legend: { display: false }, tooltip: { enabled: false } };
const tickGrid = { display: true, drawOnChartArea: false, drawTicks: true, tickLength: 5, tickColor: ink, tickWidth: 1.2 };
const axisLine = { display: true, color: ink, width: 1.5 };
const minus = v => (v < 0 ? '\u2212' + Math.abs(v) : String(v));

// panel A
new Chart(document.getElementById('cDist'), {
  type: 'line',
  data: {
    datasets: [{
      data: [{ x: distSpan[0], y: distHeight }, { x: distSpan[1], y: distHeight }, { x: distSpan[1], y: 0 }],
      borderColor: '#a0a0a0', borderWidth: 1, backgroundColor: '#f2f3f5',
      fill: 'origin', pointRadius: 0, tension: 0
    }]
  },
  options: {
    responsive: false, animation: false, events: [],
    layout: { padding: { top: 7, right: 33, left: 0, bottom: 0 } },
    plugins: noUi,
    scales: {
      x: { type: 'linear', min: 0, max: 6.09, ticks: { display: false }, grid: { display: false },
           border: { display: true, color: '#111', width: 3 }, afterFit: s => { s.height = 13; } },
      y: { type: 'linear', min: 0, max: 0.3158, ticks: { display: false }, grid: { display: false },
           border: { display: true, color: '#111', width: 3 }, afterFit: s => { s.width = 68; } }
    }
  },
  plugins: [{
    id: 'innerTicks',
    afterDraw(chart) {
      const { ctx, chartArea: a, scales: { x, y } } = chart;
      ctx.save();
      ctx.strokeStyle = '#111';
      ctx.lineWidth = 2;
      ctx.beginPath();
      distTicks.forEach(v => {
        const px = x.getPixelForValue(v);
        ctx.moveTo(px, a.bottom);
        ctx.lineTo(px, a.bottom - 8);
      });
      const py = y.getPixelForValue(distHeight);
      ctx.moveTo(a.left, py);
      ctx.lineTo(a.left + 11, py);
      ctx.stroke();
      ctx.restore();
    }
  }]
});

// panel C
function bracketPlugin(list) {
  return {
    id: 'brackets',
    afterDraw(chart) {
      const { ctx, chartArea: a, scales: { y } } = chart;
      ctx.save();
      ctx.lineWidth = 2.6;
      ctx.lineJoin = 'miter';
      list.forEach(b => {
        const xv = a.left - b.dx;
        const lo = y.getPixelForValue(b.range[0]);
        const hi = y.getPixelForValue(b.range[1]);
        ctx.strokeStyle = b.color;
        ctx.beginPath();
        if (b.caps[0]) { ctx.moveTo(a.left, lo); ctx.lineTo(xv, lo); } else ctx.moveTo(xv, lo);
        ctx.lineTo(xv, hi);
        if (b.caps[1]) ctx.lineTo(a.left, hi);
        ctx.stroke();
      });
      ctx.restore();
    }
  };
}

function scatterChart(id, sets, yMin, yMax, topPad, brackets) {
  return new Chart(document.getElementById(id), {
    type: 'scatter',
    data: {
      datasets: sets.map(s => ({
        data: s.pts.map(p => ({ x: p[0], y: p[1] })),
        pointRadius: 2.7, pointBorderWidth: 0.9,
        pointBackgroundColor: `rgba(${s.rgb},0.35)`,
        pointBorderColor: `rgba(${s.rgb},0.8)`
      }))
    },
    options: {
      responsive: false, animation: false, events: [],
      layout: { padding: { top: topPad, right: 0, left: 0, bottom: 0 } },
      plugins: noUi,
      scales: {
        x: {
          type: 'linear', min: 0, max: 14.5,
          ticks: { stepSize: 1, includeBounds: false, autoSkip: false, maxRotation: 0, padding: 3,
                   font: { size: 25 }, callback: v => (v % 4 === 0 ? String(v) : '') },
          grid: tickGrid, border: axisLine, afterFit: s => { s.height = 37; }
        },
        y: {
          type: 'linear', min: yMin, max: yMax,
          ticks: { stepSize: 5, includeBounds: false, autoSkip: false, padding: 2,
                   font: { size: 26 }, callback: v => (v % 20 === 0 ? minus(v) : '') },
          grid: tickGrid, border: axisLine, afterFit: s => { s.width = 149; }
        }
      }
    },
    plugins: [bracketPlugin(brackets)]
  });
}

scatterChart('cTop', [
  { pts: topGrey, rgb: '150,150,150' },
  { pts: topBlue, rgb: '63,159,220' },
  { pts: topPurple, rgb: '116,102,190' },
  { pts: topRed, rgb: '232,38,45' }
], -45, 5, 20.5, [
  { range: topThresholdNonCF, caps: [true, true], color: blue, dx: 109 },
  { range: [-45, topThresholdCF], caps: [false, true], color: red, dx: 103 }
]);

scatterChart('cBot', [
  { pts: botGreyLow, rgb: '120,120,120' },
  { pts: botGrey, rgb: '128,128,128' },
  { pts: botBlue, rgb: '63,159,220' },
  { pts: botRed, rgb: '232,38,45' }
], -5, 45, 21, [
  { range: botThresholdNonCF, caps: [true, true], color: blue, dx: 109 },
  { range: botThresholdCF, caps: [true, true], color: red, dx: 103 }
]);

// panel D: box plot
const boxColors = [blue, red];
new Chart(document.getElementById('cBox'), {
  type: 'bar',
  data: {
    labels: groups,
    datasets: [{
      data: groups.map((g, i) => [boxQ1[i], boxQ3[i]]),
      backgroundColor: 'rgba(255,255,255,0)', borderColor: boxColors,
      borderWidth: 2.5, borderSkipped: false, barPercentage: 0.76, categoryPercentage: 1
    }]
  },
  options: {
    responsive: false, animation: false, events: [],
    layout: { padding: { top: 15, right: 10, left: 0, bottom: 0 } },
    plugins: noUi,
    scales: {
      x: {
        ticks: { font: { size: 21, family: sans }, padding: 2, color: '#111' },
        grid: { display: true, offset: false, drawOnChartArea: false, tickLength: 6, tickColor: ink, tickWidth: 1.2 },
        border: axisLine, afterFit: s => { s.height = 40; }
      },
      y: {
        type: 'linear', min: -1, max: 16,
        ticks: { stepSize: 1.5, includeBounds: false, autoSkip: false, padding: 6, font: { size: 21, family: sans },
                 callback: v => (Math.round(v * 10) % 30 === 0 ? String(v) : '') },
        grid: { display: true, drawOnChartArea: false, tickLength: 6, tickColor: ink, tickWidth: 1.2 },
        border: axisLine, afterFit: s => { s.width = 88; }
      }
    }
  },
  plugins: [{
    id: 'whiskers',
    afterDatasetsDraw(chart) {
      const { ctx, scales: { y } } = chart;
      const bars = chart.getDatasetMeta(0).data;
      ctx.save();
      ctx.lineWidth = 2.5;
      bars.forEach((bar, i) => {
        const half = bar.width / 2;
        ctx.strokeStyle = boxColors[i];
        ctx.beginPath();
        ctx.moveTo(bar.x - half, y.getPixelForValue(boxMed[i]));
        ctx.lineTo(bar.x + half, y.getPixelForValue(boxMed[i]));
        ctx.moveTo(bar.x, y.getPixelForValue(boxQ3[i]));
        ctx.lineTo(bar.x, y.getPixelForValue(boxMax[i]));
        ctx.moveTo(bar.x - 5, y.getPixelForValue(boxMax[i]));
        ctx.lineTo(bar.x + 5, y.getPixelForValue(boxMax[i]));
        ctx.moveTo(bar.x, y.getPixelForValue(boxQ1[i]));
        ctx.lineTo(bar.x, y.getPixelForValue(boxMin[i]));
        ctx.moveTo(bar.x - 5, y.getPixelForValue(boxMin[i]));
        ctx.lineTo(bar.x + 5, y.getPixelForValue(boxMin[i]));
        ctx.stroke();
      });
      ctx.restore();
    }
  }]
});

// panel D: histogram
new Chart(document.getElementById('cHist'), {
  type: 'bar',
  data: {
    datasets: [
      { data: redBins.map((b, i) => ({ x: redCounts[i], y: b })), yAxisID: 'y', grouped: false,
        backgroundColor: '#ed1c24', borderWidth: 0, inflateAmount: 0.8, barPercentage: 1, categoryPercentage: 1 },
      { data: blueBins.map((b, i) => ({ x: blueCounts[i], y: b })), yAxisID: 'y2', grouped: false,
        backgroundColor: '#4a9ed9', borderWidth: 0, inflateAmount: 0.8, barPercentage: 1, categoryPercentage: 1 }
    ]
  },
  options: {
    indexAxis: 'y',
    responsive: false, animation: false, events: [],
    layout: { padding: { top: 15, right: 20, left: 0, bottom: 0 } },
    plugins: noUi,
    scales: {
      x: {
        type: 'linear', min: 0, max: 251,
        ticks: { stepSize: 50, includeBounds: false, autoSkip: false, callback: () => '' },
        grid: { display: true, drawOnChartArea: false, tickLength: 5, tickColor: ink, tickWidth: 1.2 },
        border: axisLine, afterFit: s => { s.height = 40; }
      },
      y: {
        type: 'linear', position: 'left', min: -1, max: 16,
        ticks: { stepSize: 1.5, includeBounds: false, autoSkip: false, callback: () => '' },
        grid: { display: true, drawOnChartArea: false, tickLength: 6, tickColor: ink, tickWidth: 1.2 },
        border: axisLine, afterFit: s => { s.width = 10; }
      },
      y2: { type: 'linear', display: false, min: -1, max: 16 }
    }
  },
  plugins: [{
    id: 'innerLabels',
    afterDraw(chart) {
      const { ctx, chartArea: a, scales: { x } } = chart;
      ctx.save();
      ctx.fillStyle = '#222';
      ctx.font = '15px ' + serif;
      ctx.textAlign = 'center';
      ctx.textBaseline = 'middle';
      histLabels.forEach(v => ctx.fillText(String(v), x.getPixelForValue(v), a.bottom - 9));
      ctx.restore();
    }
  }]
});
</script>
</body>
</html>
